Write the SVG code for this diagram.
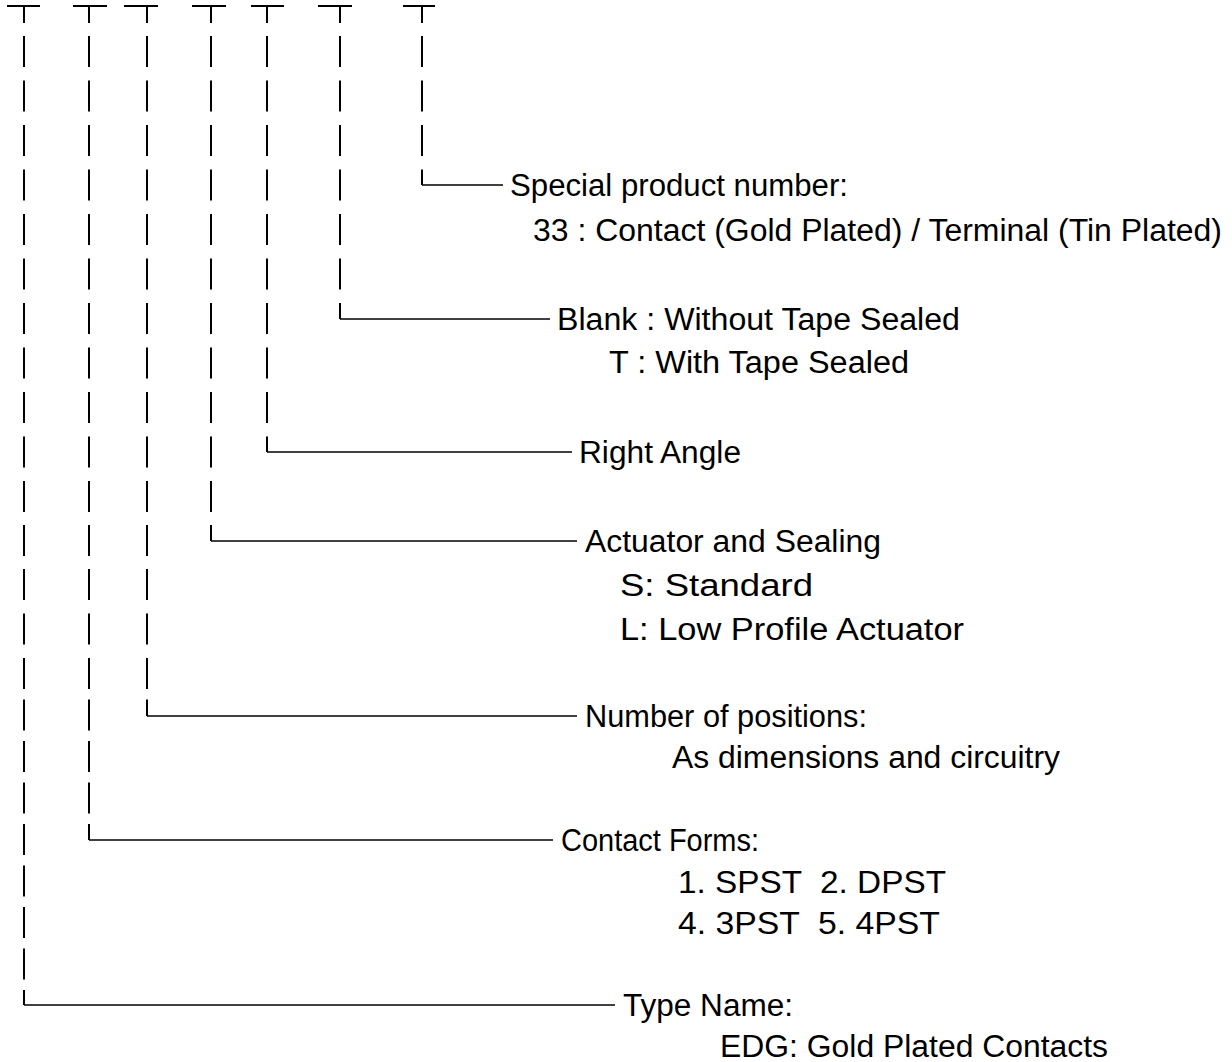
<svg xmlns="http://www.w3.org/2000/svg" width="1232" height="1062" viewBox="0 0 1232 1062">
<style>
  .v { fill: none; stroke: #000; stroke-width: 2; }
  .h { fill: none; stroke: #000; stroke-width: 1.6; }
  .t { font-family: "Liberation Sans", Arial, sans-serif; font-size: 31px; fill: #000; white-space: pre; }
</style>
<rect width="1232" height="1062" fill="#fff"/>
<g id="connectors">
  <!-- T heads -->
  <path class="v" d="M7 6H40 M73 6H107 M124 6H158 M192 6H226 M251 6H284 M318 6H352 M403 6H435"/>
  <!-- col7 -->
  <path class="v" d="M422 6V23 M422 36V67 M422 80.5V111.5 M422 125V156 M422 169.5V185"/>
  <path class="h" d="M422 185H503"/>
  <!-- col6 -->
  <path class="v" d="M340 6V23 M340 36V67 M340 80.5V111.5 M340 125V156 M340 169.5V200.5 M340 214V245 M340 258.5V289.5 M340 303V319"/>
  <path class="h" d="M340 319H550"/>
  <!-- col5 -->
  <path class="v" d="M267 6V23 M267 36V67 M267 80.5V111.5 M267 125V156 M267 169.5V200.5 M267 214V245 M267 258.5V289.5 M267 303V334 M267 347.5V378.5 M267 392V423 M267 436.5V452"/>
  <path class="h" d="M267 452H572"/>
  <!-- col4 -->
  <path class="v" d="M211 6V23 M211 36V67 M211 80.5V111.5 M211 125V156 M211 169.5V200.5 M211 214V245 M211 258.5V289.5 M211 303V334 M211 347.5V378.5 M211 392V423 M211 436.5V467.5 M211 481V512 M211 525V541"/>
  <path class="h" d="M211 541H577"/>
  <!-- col3 -->
  <path class="v" d="M147 6V23 M147 36V67 M147 80.5V111.5 M147 125V156 M147 169.5V200.5 M147 214V245 M147 258.5V289.5 M147 303V334 M147 347.5V378.5 M147 392V423 M147 436.5V467.5 M147 481V512 M147 525V556 M147 569V600 M147 613.5V644.5 M147 658V689 M147 699.5V716"/>
  <path class="h" d="M147 716H577"/>
  <!-- col2 -->
  <path class="v" d="M89 6V23 M89 36V67 M89 80.5V111.5 M89 125V156 M89 169.5V200.5 M89 214V245 M89 258.5V289.5 M89 303V334 M89 347.5V378.5 M89 392V423 M89 436.5V467.5 M89 481V512 M89 525V556 M89 569V600 M89 613.5V644.5 M89 658V689 M89 699.5V730.5 M89 741V772 M89 782.5V813.5 M89 824V840"/>
  <path class="h" d="M89 840H553"/>
  <!-- col1 -->
  <path class="v" d="M24 6V23 M24 36V67 M24 80.5V111.5 M24 125V156 M24 169.5V200.5 M24 214V245 M24 258.5V289.5 M24 303V334 M24 347.5V378.5 M24 392V423 M24 436.5V467.5 M24 481V512 M24 525V556 M24 569V600 M24 613.5V644.5 M24 658V689 M24 699.5V730.5 M24 741V772 M24 782.5V813.5 M24 824V855 M24 865.5V896.5 M24 907V938 M24 948.5V979.5 M24 990V1005"/>
  <path class="h" d="M24 1005H615"/>
</g>
<g id="special">
  <text class="t" x="510" y="196" textLength="338" lengthAdjust="spacingAndGlyphs">Special product number:</text>
  <text class="t" x="533" y="241" textLength="689" lengthAdjust="spacingAndGlyphs">33 : Contact (Gold Plated) / Terminal (Tin Plated)</text>
</g>
<g id="tape">
  <text class="t" x="557" y="330" textLength="403" lengthAdjust="spacingAndGlyphs">Blank : Without Tape Sealed</text>
  <text class="t" x="609" y="373" textLength="300" lengthAdjust="spacingAndGlyphs">T : With Tape Sealed</text>
</g>
<g id="angle">
  <text class="t" x="579" y="463" textLength="162" lengthAdjust="spacingAndGlyphs">Right Angle</text>
</g>
<g id="actuator">
  <text class="t" x="585" y="552" textLength="296" lengthAdjust="spacingAndGlyphs">Actuator and Sealing</text>
  <text class="t" x="620" y="596" textLength="193" lengthAdjust="spacingAndGlyphs">S: Standard</text>
  <text class="t" x="620" y="640" textLength="344" lengthAdjust="spacingAndGlyphs">L: Low Profile Actuator</text>
</g>
<g id="positions">
  <text class="t" x="585" y="727" textLength="282" lengthAdjust="spacingAndGlyphs">Number of positions:</text>
  <text class="t" x="672" y="768" textLength="388" lengthAdjust="spacingAndGlyphs">As dimensions and circuitry</text>
</g>
<g id="forms">
  <text class="t" x="561" y="851" textLength="198" lengthAdjust="spacingAndGlyphs">Contact Forms:</text>
  <text class="t" x="678" y="893" textLength="268" lengthAdjust="spacingAndGlyphs">1. SPST  2. DPST</text>
  <text class="t" x="678" y="934" textLength="262" lengthAdjust="spacingAndGlyphs">4. 3PST  5. 4PST</text>
</g>
<g id="type">
  <text class="t" x="623" y="1016" textLength="170" lengthAdjust="spacingAndGlyphs">Type Name:</text>
  <text class="t" x="720" y="1057" textLength="388" lengthAdjust="spacingAndGlyphs">EDG: Gold Plated Contacts</text>
</g>
</svg>
